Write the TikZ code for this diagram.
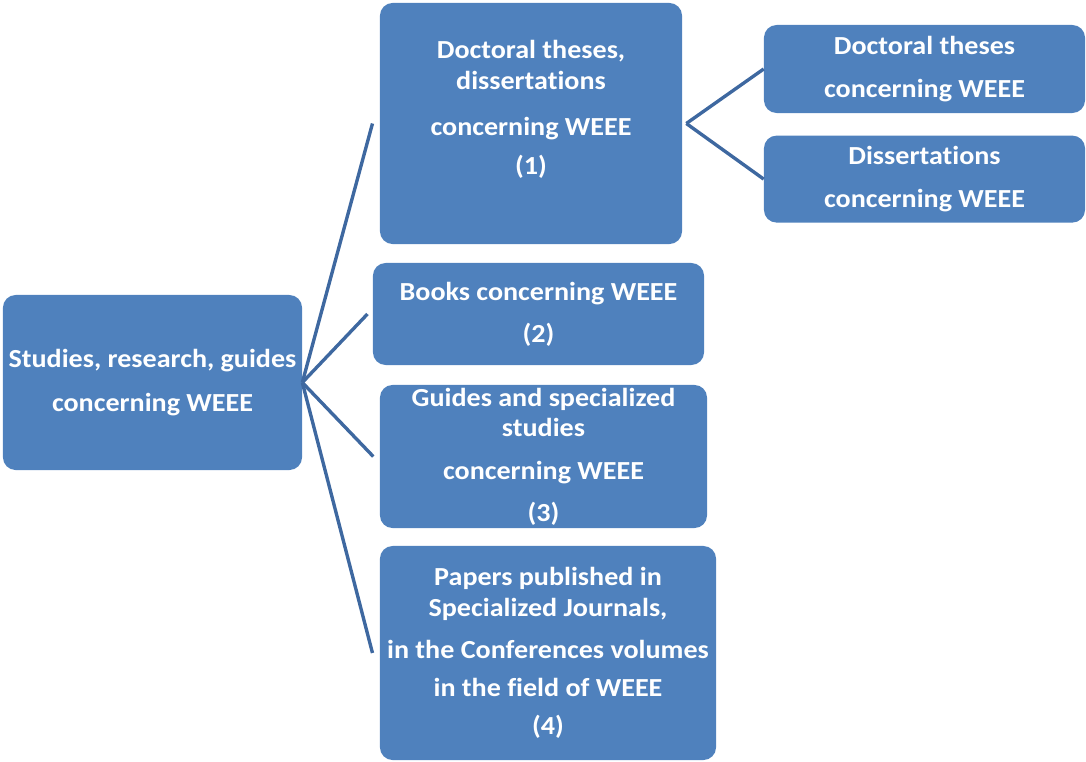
\documentclass[tikz,border=0pt]{standalone}
\usepackage{fontspec}
\setmainfont[FakeStretch=1.08,Ligatures=NoCommon]{Carlito}
\usepackage{tikz}
\usetikzlibrary{positioning}
\definecolor{boxblue}{RGB}{79,129,189}
\definecolor{linkblue}{RGB}{62,104,160}
\tikzset{
    block/.style = {fill=boxblue, rounded corners=9pt, text=white, align=center,
                 font=\fontsize{18.5}{22}\selectfont\bfseries, inner sep=2pt},
    link/.style = {draw=linkblue, line width=2.4pt},
}

\begin{document}
\begin{tikzpicture}[x=0.025cm,y=-0.025cm]
 \useasboundingbox (0,0) rectangle (1086,762);
 \node (root) [block, minimum width=7.475cm, minimum height=4.375cm] at (152.5,382.5) {Studies, research, guides\\[9pt] concerning WEEE};
 \node (thes) [block, minimum width=7.55cm, minimum height=6.025cm] at (531,123.5) {Doctoral theses,\\ dissertations\\[11pt] concerning WEEE\\[6pt] (1)\\[1pt] \mbox{}};
 \node (book) [block, minimum width=8.275cm, minimum height=2.55cm] at (538.5,314) {Books concerning WEEE\\[8pt] (2)};
 \node (guid) [block, minimum width=8.175cm, minimum height=3.475cm] at (543.5,456.5) {Guides and specialized\\ studies\\[8pt] concerning WEEE\\[8pt] (3)};
 \node (pap)  [block, minimum width=8.4cm, minimum height=5.35cm] at (548,653) {Papers published in\\ Specialized Journals,\\[8pt] in the Conferences volumes\\[5pt] in the field of WEEE\\[5pt] (4)};
 \node (doc)  [block, minimum width=8.025cm, minimum height=2.2cm] at (924.5,69) {Doctoral theses\\[8pt] concerning WEEE};
 \node (diss) [block, minimum width=8.025cm, minimum height=2.175cm, below=0.55cm of doc] {Dissertations\\[8pt] concerning WEEE};

 \draw[link] (root.east) -- ([xshift=-0.18cm]thes.west);
 \draw[link] (root.east) -- ([xshift=-0.13cm]book.west);
 \draw[link] (root.east) -- ([xshift=-0.16cm]guid.west);
 \draw[link] (root.east) -- ([xshift=-0.18cm]pap.west);
 \draw[link] ([xshift=0.1cm]thes.east) -- (doc.west);
 \draw[link] ([xshift=0.1cm]thes.east) -- (diss.west);
\end{tikzpicture}
\end{document}
